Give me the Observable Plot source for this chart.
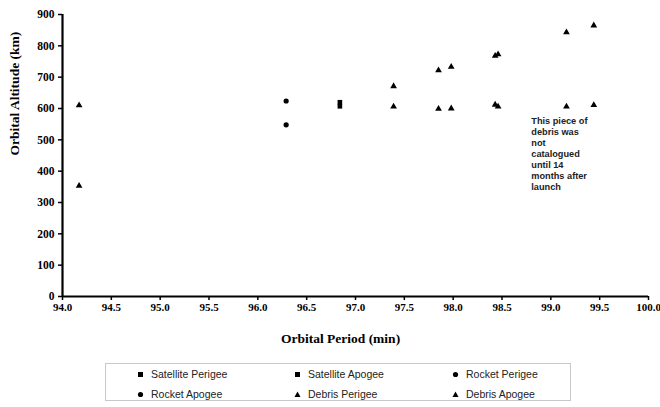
<!DOCTYPE html>
<html><head><meta charset="utf-8">
<script src="https://cdn.jsdelivr.net/npm/d3@7"></script>
<script src="https://cdn.jsdelivr.net/npm/@observablehq/plot@0.6"></script>
<style>
body{margin:0;background:#fff;}
#wrap{width:660px;}
#legend{position:relative;margin-left:105px;margin-top:5px;width:466px;height:38px;border:1px solid #c8c8c8;box-sizing:border-box;background:#fff;font-family:"Liberation Sans",Arial,sans-serif;font-size:10.5px;color:#222;}
.item{position:absolute;display:flex;align-items:center;height:14px;}
.item svg{margin-right:6px;}
</style></head><body><div id="wrap"><div id="chart"></div><div id="legend"></div></div><script>
// Data
const satPeriod = [96.84];
const satPerigee = [607];
const satApogee = [620];
const rocketPeriod = [96.29];
const rocketPerigee = [548];
const rocketApogee = [624];
const debrisPeriod  = [94.17, 97.39, 97.85, 97.98, 98.43, 98.46, 99.16, 99.44];
const debrisPerigee = [353,   606,   599,   600,   612,   606,   606,   611];
const debrisApogee  = [610,   671,   722,   733,   768,   773,   843,   865];
const seriesNames = ["Satellite Perigee","Satellite Apogee","Rocket Perigee","Rocket Apogee","Debris Perigee","Debris Apogee"];
const seriesSymbols = ["square","square","circle","circle","triangle","triangle"];
const xTicks = d3.range(0, 13).map(i => 94 + i * 0.5);
const yTicks = d3.range(0, 10).map(i => i * 100);
const note = "This piece of\ndebris was\nnot\ncatalogued\nuntil 14\nmonths after\nlaunch";
const noteX = 98.8, noteY = 575;

const rows = [];
const add = (name, sym, xs, ys) => xs.forEach((x, i) => rows.push({series: name, symbol: sym, period: x, alt: ys[i]}));
add(seriesNames[0], seriesSymbols[0], satPeriod, satPerigee);
add(seriesNames[1], seriesSymbols[1], satPeriod, satApogee);
add(seriesNames[2], seriesSymbols[2], rocketPeriod, rocketPerigee);
add(seriesNames[3], seriesSymbols[3], rocketPeriod, rocketApogee);
add(seriesNames[4], seriesSymbols[4], debrisPeriod, debrisPerigee);
add(seriesNames[5], seriesSymbols[5], debrisPeriod, debrisApogee);

const sizeOf = {square: 2.6, circle: 2.6, triangle: 2.5};
const serif = "'Liberation Serif','Times New Roman',serif";

const plot = Plot.plot({
  width: 660, height: 358,
  marginLeft: 62, marginRight: 12, marginTop: 14, marginBottom: 62,
  style: {fontFamily: serif, background: "#fff", color: "#000"},
  x: {domain: [94, 100], ticks: xTicks},
  y: {domain: [0, 900], ticks: yTicks},
  marks: [
    Plot.axisX({ticks: xTicks, tickFormat: d3.format(".1f"), tickSize: 4, tickPadding: 3, fontSize: 11, fontWeight: "bold", label: null, strokeWidth: 1.5}),
    Plot.axisY({ticks: yTicks, tickFormat: d => d, tickSize: 4, tickPadding: 4, fontSize: 11.5, fontWeight: "bold", label: null, strokeWidth: 1.5}),
    Plot.ruleX([94], {strokeWidth: 2.2}),
    Plot.ruleY([0], {strokeWidth: 2.2}),
    Plot.dot(rows, {x: "period", y: "alt", symbol: "symbol", r: d => sizeOf[d.symbol], fill: "#000", stroke: null}),
    Plot.text([note], {x: noteX, y: noteY, text: d => d, textAnchor: "start", lineAnchor: "top", lineHeight: 1.19, fontSize: 9.2, fontWeight: "bold", fontFamily: "'Liberation Sans',Arial,sans-serif", fill: "#222"}),
    Plot.text(["Orbital Altitude (km)"], {frameAnchor: "left", rotate: -90, dx: -48, text: d => d, fontSize: 13.5, fontWeight: "bold", fontFamily: serif}),
    Plot.text(["Orbital Period (min)"], {frameAnchor: "bottom", dy: 46, dx: -15, text: d => d, fontSize: 13.5, fontWeight: "bold", fontFamily: serif})
  ],
  symbol: {type: "identity"},
  r: {type: "identity"}
});
document.getElementById("chart").append(plot);

// Legend below the chart
const legend = document.getElementById("legend");
const colX = [30, 187, 345];
const rowY = [3, 23];
const glyph = {
  square: '<rect x="2" y="2" width="5" height="5" fill="#000"/>',
  circle: '<circle cx="4.5" cy="4.5" r="2.6" fill="#000"/>',
  triangle: '<path d="M4.5,1.5 L7.5,7 L1.5,7 Z" fill="#000"/>'
};
seriesNames.forEach((name, i) => {
  const el = document.createElement("div");
  el.className = "item";
  el.style.left = colX[i % 3] + "px";
  el.style.top = rowY[Math.floor(i / 3)] + "px";
  el.innerHTML = `<svg width="9" height="9">${glyph[seriesSymbols[i]]}</svg><span>${name}</span>`;
  legend.append(el);
});
</script></body></html>
